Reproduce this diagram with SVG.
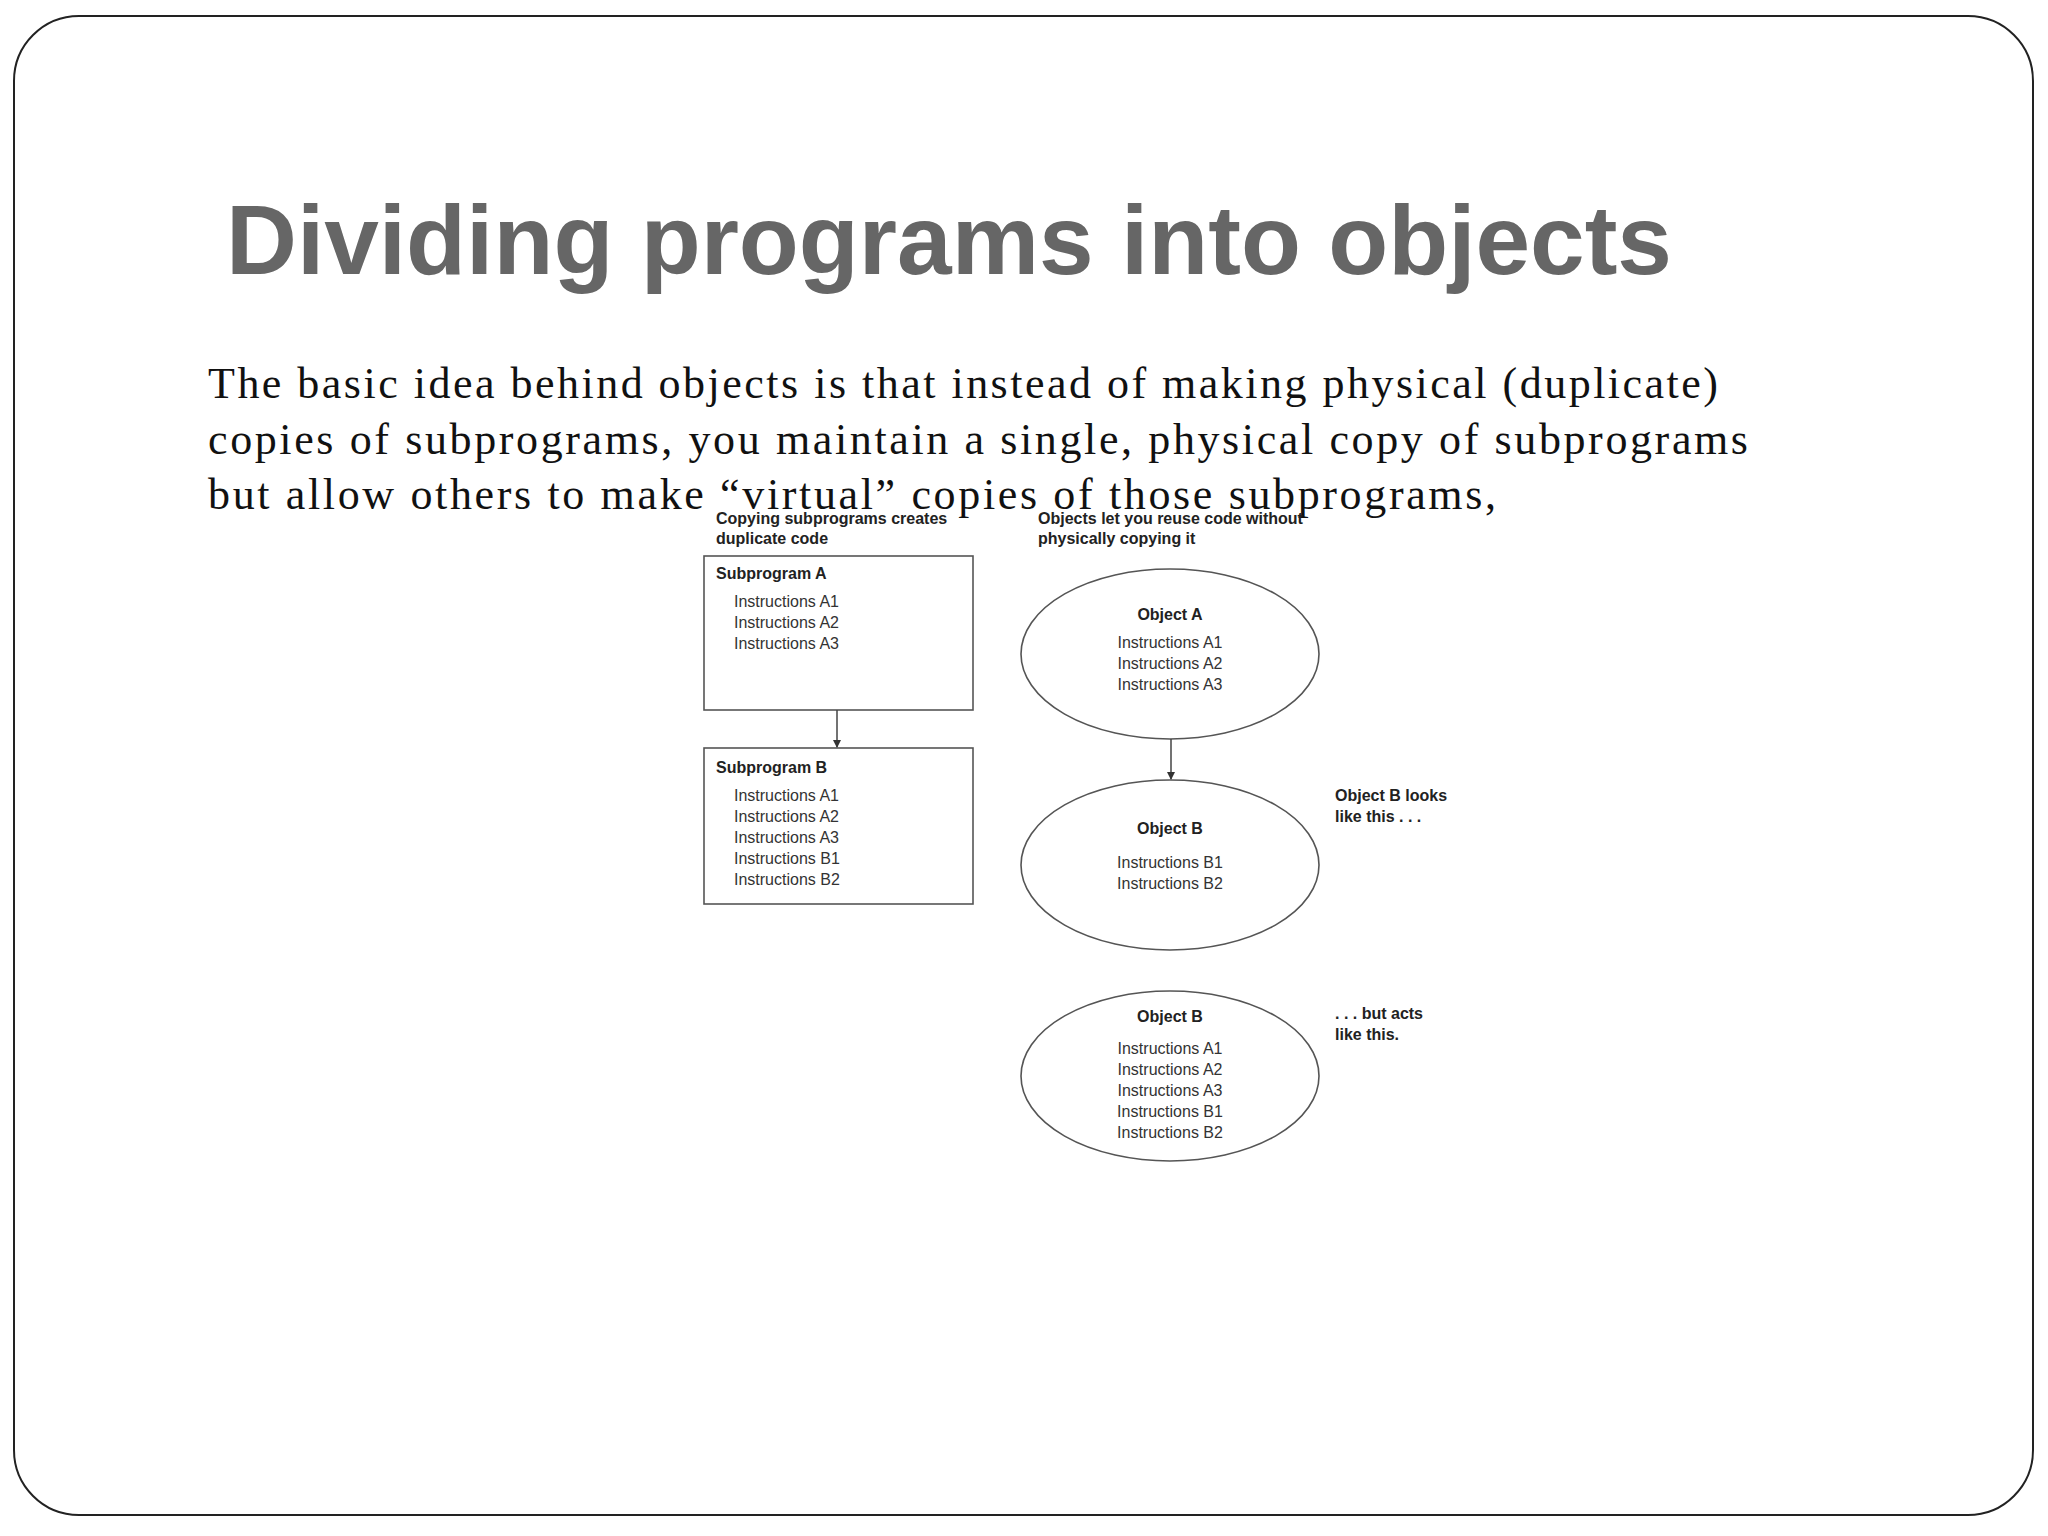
<svg xmlns="http://www.w3.org/2000/svg" width="2048" height="1536" viewBox="0 0 2048 1536">
<style>
.t{font-family:"Liberation Sans",Arial,sans-serif;font-size:16px;fill:#333}
.b{font-family:"Liberation Sans",Arial,sans-serif;font-size:16px;font-weight:bold;fill:#222}
.c{text-anchor:middle}
.s{fill:none;stroke:#555;stroke-width:1.6}
.body{font-family:"Liberation Serif","Times New Roman",serif;font-size:44px;fill:#111}
</style>
<defs><marker id="ah" markerWidth="8" markerHeight="8" refX="7" refY="4" orient="auto" markerUnits="userSpaceOnUse"><path d="M0,0 L8,4 L0,8 z" fill="#333"/></marker></defs>
<rect width="2048" height="1536" fill="#fff"/>
<rect x="14" y="16" width="2019" height="1499" rx="65" fill="#fff" stroke="#222" stroke-width="2"/>
<text x="226" y="274" font-family="Liberation Sans,Arial,sans-serif" font-size="98" font-weight="bold" fill="#666" textLength="1446" lengthAdjust="spacingAndGlyphs">Dividing programs into objects</text>
<text class="body" x="208" y="398" textLength="1510">The basic idea behind objects is that instead of making physical (duplicate)</text>
<text class="body" x="208" y="454" textLength="1540">copies of subprograms, you maintain a single, physical copy of subprograms</text>
<text class="body" x="208" y="509" textLength="1288">but allow others to make “virtual” copies of those subprograms,</text>
<g id="hdr-left"><text class="b" x="716" y="524">Copying subprograms creates</text><text class="b" x="716" y="544">duplicate code</text></g>
<g id="hdr-right"><text class="b" x="1038" y="524">Objects let you reuse code without</text><text class="b" x="1038" y="544">physically copying it</text></g>
<g id="subA"><rect class="s" x="704" y="556" width="269" height="154"/><text class="b" x="716" y="579">Subprogram A</text>
<text class="t" x="734" y="607">Instructions A1</text><text class="t" x="734" y="628">Instructions A2</text><text class="t" x="734" y="649">Instructions A3</text></g>
<g id="subB"><rect class="s" x="704" y="748" width="269" height="156"/><text class="b" x="716" y="773">Subprogram B</text>
<text class="t" x="734" y="801">Instructions A1</text><text class="t" x="734" y="822">Instructions A2</text><text class="t" x="734" y="843">Instructions A3</text><text class="t" x="734" y="864">Instructions B1</text><text class="t" x="734" y="885">Instructions B2</text></g>
<g id="objA"><ellipse class="s" cx="1170" cy="654" rx="149" ry="85"/><text class="b c" x="1170" y="620">Object A</text>
<text class="t c" x="1170" y="648">Instructions A1</text><text class="t c" x="1170" y="669">Instructions A2</text><text class="t c" x="1170" y="690">Instructions A3</text></g>
<g id="objB"><ellipse class="s" cx="1170" cy="865" rx="149" ry="85"/><text class="b c" x="1170" y="834">Object B</text>
<text class="t c" x="1170" y="868">Instructions B1</text><text class="t c" x="1170" y="889">Instructions B2</text></g>
<g id="objB2"><ellipse class="s" cx="1170" cy="1076" rx="149" ry="85"/><text class="b c" x="1170" y="1022">Object B</text>
<text class="t c" x="1170" y="1054">Instructions A1</text><text class="t c" x="1170" y="1075">Instructions A2</text><text class="t c" x="1170" y="1096">Instructions A3</text><text class="t c" x="1170" y="1117">Instructions B1</text><text class="t c" x="1170" y="1138">Instructions B2</text></g>
<g id="note1"><text class="b" x="1335" y="801">Object B looks</text><text class="b" x="1335" y="822">like this . . .</text></g>
<g id="note2"><text class="b" x="1335" y="1019">. . . but acts</text><text class="b" x="1335" y="1040">like this.</text></g>
<g id="connectors" stroke="#444" stroke-width="1.5">
<line x1="837" y1="710" x2="837" y2="747" marker-end="url(#ah)"/>
<line x1="1171" y1="739" x2="1171" y2="779" marker-end="url(#ah)"/>
</g>
</svg>
